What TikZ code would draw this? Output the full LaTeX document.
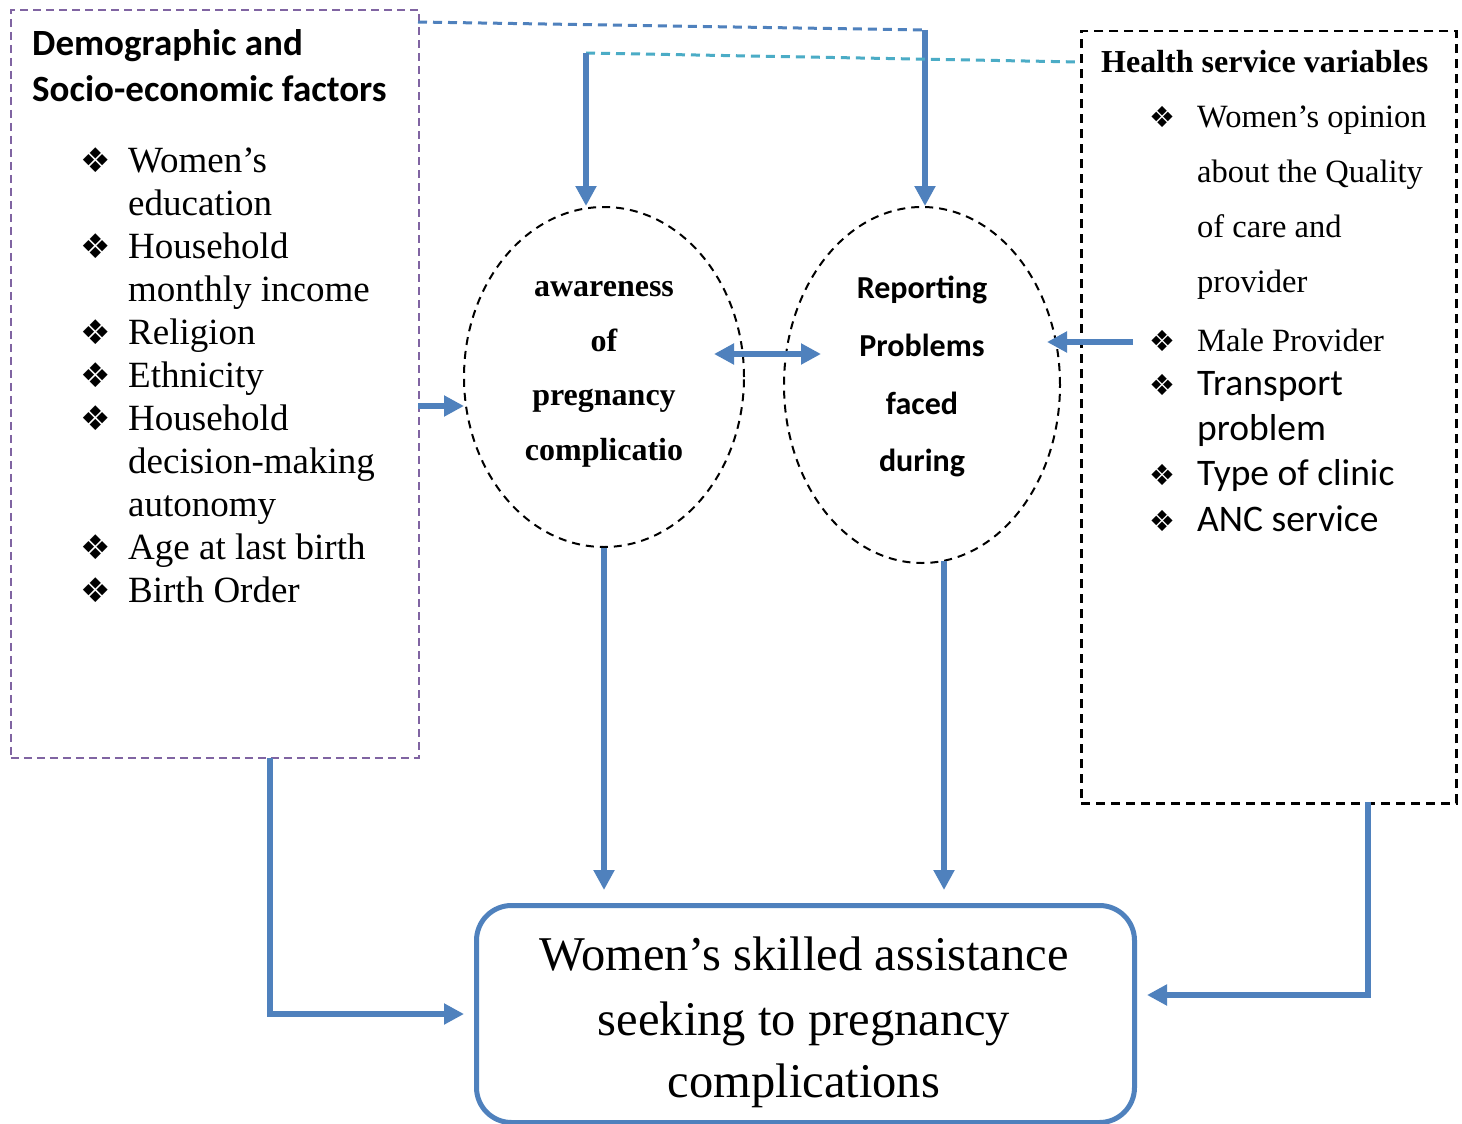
\documentclass[tikz,border=0pt]{standalone}
\usepackage{fontspec}
\setmainfont{Liberation Serif}
\newfontfamily\calib{Carlito}
\newfontfamily\djv{DejaVu Sans}
\usetikzlibrary{arrows.meta,shapes.geometric}
\definecolor{accblue}{HTML}{4F81BD}
\definecolor{acccyan}{HTML}{4BACC6}
\definecolor{accpurple}{HTML}{8064A2}
\newcommand{\dia}{{\djv ❖}}
\begin{document}
\begin{tikzpicture}[x=1pt,y=-1pt,
  tip/.tip={Triangle[length=20pt,width=20pt]},
  flow/.style={draw=accblue, line width=5.5pt, -tip},
  bluedash/.style={draw=accblue, line width=3pt, dash pattern=on 9pt off 6pt},
  cyandash/.style={draw=acccyan, line width=3pt, dash pattern=on 9pt off 6pt},
  ltext/.style={anchor=base west, inner sep=0pt, font=\fontsize{37}{43}\selectfont},
  lbul/.style={anchor=base west, inner sep=0pt, font=\fontsize{34}{40}\selectfont},
  rtext/.style={anchor=base west, inner sep=0pt, font=\fontsize{32.5}{38}\selectfont},
  rctext/.style={anchor=base west, inner sep=0pt, font=\calib\fontsize{37.5}{44}\selectfont},
  rbul/.style={anchor=base west, inner sep=0pt, font=\fontsize{29}{34}\selectfont},
  etext/.style={anchor=base, inner sep=0pt, font=\bfseries\fontsize{32}{38}\selectfont},
  ectext/.style={anchor=base, inner sep=0pt, font=\calib\bfseries\fontsize{32}{38}\selectfont},
  stext/.style={anchor=base, inner sep=0pt, font=\fontsize{48.5}{64}\selectfont},
  ttext/.style={anchor=base west, inner sep=0pt, font=\calib\bfseries\fontsize{37}{44}\selectfont},
  ell/.style={draw=black, ellipse, line width=2pt, dash pattern=on 8pt off 6pt, inner sep=0pt}
]
\useasboundingbox[fill=white] (0,0) rectangle (1462,1124);

% boxes
\node[draw=accpurple, line width=1.8pt, dash pattern=on 8pt off 5pt, minimum width=408, minimum height=748, anchor=north west, inner sep=0pt] (demo) at (10,9) {};
\node[draw=black, line width=2.5pt, dash pattern=on 9pt off 6pt, minimum width=375, minimum height=772, anchor=north west, inner sep=0pt] (health) at (1080,30) {};
\node[ell, minimum width=280, minimum height=340] (aware) at (604,377) {};
\node[ell, minimum width=276, minimum height=356] (report) at (922,385) {};
\node[draw=accblue, line width=5pt, rounded corners=35pt, minimum width=658, minimum height=217, anchor=north west, inner sep=0pt] (seek) at (474,903) {};

% left box text
\node[ttext] (dt1) at (32,56) {Demographic and};
\node[ttext] (dt2) at (32,101) {Socio-economic factors};
\node[lbul] (lb1) at (80,172) {\dia};
\node[ltext] (l1) at (128,172) {Women’s};
\node[ltext] (l2) at (128,215) {education};
\node[lbul] (lb3) at (80,258) {\dia};
\node[ltext] (l3) at (128,258) {Household};
\node[ltext] (l4) at (128,301) {monthly income};
\node[lbul] (lb5) at (80,344) {\dia};
\node[ltext] (l5) at (128,344) {Religion};
\node[lbul] (lb6) at (80,387) {\dia};
\node[ltext] (l6) at (128,387) {Ethnicity};
\node[lbul] (lb7) at (80,430) {\dia};
\node[ltext] (l7) at (128,430) {Household};
\node[ltext] (l8) at (128,473) {decision-making};
\node[ltext] (l9) at (128,516) {autonomy};
\node[lbul] (lb10) at (80,559) {\dia};
\node[ltext] (l10) at (128,559) {Age at last birth};
\node[lbul] (lb11) at (80,602) {\dia};
\node[ltext] (l11) at (128,602) {Birth Order};

% right box text
\node[anchor=base west, inner sep=0pt, font=\bfseries\fontsize{32}{38}\selectfont] (ht) at (1101,73) {Health service variables};
\node[rbul] (rb1) at (1149,127) {\dia};
\node[rtext] (r1) at (1197,127) {Women’s opinion};
\node[rtext] (r2) at (1197,182) {about the Quality};
\node[rtext] (r3) at (1197,237) {of care and};
\node[rtext] (r4) at (1197,292) {provider};
\node[rbul] (rb5) at (1149,351) {\dia};
\node[rtext] (r5) at (1197,351) {Male Provider};
\node[rbul] (rb6) at (1149,395) {\dia};
\node[rctext] (r6) at (1197,395) {Transport};
\node[rctext] (r7) at (1197,440) {problem};
\node[rbul] (rb8) at (1149,485) {\dia};
\node[rctext] (r8) at (1197,485) {Type of clinic};
\node[rbul] (rb9) at (1149,531) {\dia};
\node[rctext] (r9) at (1197,531) {ANC service};

% ellipse texts
\node[etext] (a1) at (604,296) {awareness};
\node[etext] (a2) at (604,351) {of};
\node[etext] (a3) at (604,405) {pregnancy};
\node[etext] (a4) at (604,460) {complicatio};
\node[ectext] (p1) at (922,298) {Reporting};
\node[ectext] (p2) at (922,356) {Problems};
\node[ectext] (p3) at (922,414) {faced};
\node[ectext] (p4) at (922,471) {during};

% bottom box text
\node[stext] (s1) at (804,970) {Women’s skilled assistance};
\node[stext] (s2) at (804,1035) {seeking to pregnancy};
\node[stext] (s3) at (804,1097) {complications};

% connectors
\coordinate (tl) at (418,22);
\coordinate (tr) at (925,30);
\draw[bluedash] (tl) -- (tr);
\draw[flow] (tr) -- (tr |- report.north);
\coordinate (cl) at (586,53);
\coordinate (cr) at (1080,62);
\draw[cyandash] (cl) -- (cr);
\draw[flow] (cl) -- (cl |- aware.north);

\coordinate (la) at (418,406);
\coordinate (lb) at (464,406);
\draw[flow] (la) -- (lb);

\coordinate (da1) at (714,354);
\coordinate (da2) at (821,354);
\draw[flow, tip-tip] (da1) -- (da2);

\coordinate (ra) at (1133,342);
\coordinate (rb) at (1047,342);
\draw[flow] (ra) -- (rb);

\coordinate (ad) at (604,890);
\draw[flow] (aware.south) -- (ad);
\coordinate (pu) at (944,561);
\coordinate (pd) at (944,890);
\draw[flow] (pu) -- (pd);

\coordinate (dl1) at (270,758);
\coordinate (dl2) at (270,1014);
\coordinate (dl3) at (464,1014);
\draw[flow] (dl1) -- (dl2) -- (dl3);

\coordinate (hr1) at (1368,802);
\coordinate (hr2) at (1368,995);
\coordinate (hr3) at (1147,995);
\draw[flow] (hr1) -- (hr2) -- (hr3);
\end{tikzpicture}
\end{document}
